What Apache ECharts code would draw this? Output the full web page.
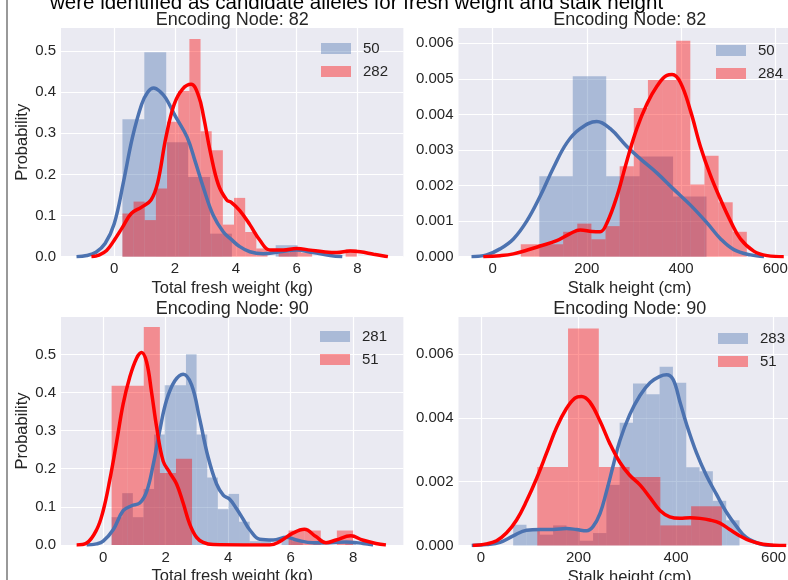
<!DOCTYPE html>
<html><head><meta charset="utf-8">
<script src="https://cdn.jsdelivr.net/npm/echarts@6/dist/echarts.min.js"></script>
<style>html,body{margin:0;padding:0;background:#fff;}#c{width:788px;height:580px;}</style>
</head><body><div id="c"></div>
<script>
const FONT = "'Liberation Sans', Arial, sans-serif";
const TXT = '#262626';
const BLUE = '#4C72B0', RED = '#FF0000';
const BLUE_FILL = 'rgba(76,114,176,0.4)', RED_FILL = 'rgba(255,0,0,0.4)';

const captionText = 'were identified as candidate alleles for fresh weight and stalk height';
const titles = ['Encoding Node: 82', 'Encoding Node: 82', 'Encoding Node: 90', 'Encoding Node: 90'];
const xNames = ['Total fresh weight (kg)', 'Stalk height (cm)', 'Total fresh weight (kg)', 'Stalk height (cm)'];
const yName = 'Probability';

const weightTicks = [0, 2, 4, 6, 8];
const heightTicks = [0, 200, 400, 600];
const probTicks = [0, 0.1, 0.2, 0.3, 0.4, 0.5];
const trYTicks = [0, 0.001, 0.002, 0.003, 0.004, 0.005, 0.006];
const brYTicks = [0, 0.002, 0.004, 0.006];

// ---- Top-left: fresh weight, node 82 ----
const tlBlueName = '50', tlRedName = '282';
const tlBlueEdges = [0.27, 0.99, 1.71, 2.43, 3.15, 3.87, 4.59, 5.31, 6.03];
const tlBlueHeights = [0.334, 0.497, 0.278, 0.194, 0.056, 0, 0, 0.028];
const tlRedEdges = [0.27, 0.637, 1.004, 1.371, 1.738, 2.105, 2.472, 2.839, 3.206, 3.573, 3.94, 4.307, 4.674, 5.041, 5.408, 5.775, 6.142, 6.509, 6.876, 7.243, 7.61, 7.977];
const tlRedHeights = [0.105, 0.134, 0.089, 0.166, 0.328, 0.403, 0.529, 0.305, 0.259, 0.078, 0.143, 0.06, 0.02, 0, 0.01, 0.02, 0.01, 0, 0, 0, 0.018];
const tlBlueKde = [[-1.24,0],[-0.9,0.003],[-0.6,0.011],[-0.3,0.032],[0,0.08],[0.3,0.18],[0.6,0.29],[0.9,0.37],[1.1,0.40],[1.3,0.41],[1.5,0.402],[1.7,0.385],[2.0,0.343],[2.4,0.29],[2.67,0.23],[2.94,0.166],[3.26,0.10],[3.59,0.06],[3.85,0.042],[4.1,0.026],[4.46,0.012],[4.9,0.007],[5.45,0.012],[6.0,0.016],[6.54,0.01],[7.1,0.003],[7.5,0]];
const tlRedKde = [[-0.75,0],[-0.5,0.004],[-0.25,0.015],[0,0.04],[0.26,0.07],[0.56,0.105],[0.89,0.12],[1.21,0.138],[1.43,0.18],[1.70,0.29],[1.97,0.37],[2.24,0.407],[2.53,0.419],[2.78,0.39],[2.94,0.34],[3.16,0.255],[3.43,0.174],[3.70,0.138],[3.85,0.132],[4.13,0.112],[4.46,0.078],[4.79,0.04],[5.12,0.016],[5.56,0.016],[6.0,0.02],[6.45,0.016],[6.88,0.012],[7.32,0.01],[7.76,0.014],[8.09,0.012],[8.53,0.006],[9.0,0]];

// ---- Top-right: stalk height, node 82 ----
const trBlueName = '50', trRedName = '284';
const trBlueEdges = [99, 170, 241, 312, 383, 454];
const trBlueHeights = [0.00226, 0.00507, 0.00226, 0.00282, 0.00169];
const trRedEdges = [59.6, 89.6, 119.6, 149.6, 179.6, 209.6, 239.6, 269.6, 299.6, 329.6, 359.6, 389.6, 419.6, 449.6, 479.6, 509.6, 539.6];
const trRedHeights = [0.00035, 0.00035, 0.00035, 0.0007, 0.00093, 0.00049, 0.00086, 0.00254, 0.00418, 0.00497, 0.00497, 0.00607, 0.00203, 0.00284, 0.00153, 0.0007];
const trBlueKde = [[-45,0],[-13,0.00005],[15.6,0.00022],[44,0.0005],[72.3,0.001],[100.7,0.0017],[129,0.0025],[157.4,0.0032],[185.8,0.0036],[221,0.0038],[249.6,0.0036],[285,0.0031],[313.5,0.00275],[349,0.00235],[384,0.0019],[420,0.00145],[455,0.00095],[484,0.0005],[512,0.0002],[547.5,0.00005],[576,0]];
const trRedKde = [[-20,0],[15.6,0.00003],[44,0.00008],[72,0.00018],[100.7,0.0003],[136,0.00045],[164.5,0.00065],[186,0.00075],[210.6,0.00071],[228,0.0007],[242.6,0.00095],[263.8,0.0017],[285,0.0027],[306,0.0036],[327.7,0.0043],[349,0.0048],[370,0.0051],[381,0.00512],[398.6,0.0049],[420,0.0041],[441,0.0031],[462,0.0023],[484,0.0016],[505,0.001],[526,0.0005],[555,0.00015],[583,0.00003],[618,0]];

// ---- Bottom-left: fresh weight, node 90 ----
const blBlueName = '281', blRedName = '51';
const blBlueEdges = [0.27, 0.61, 0.95, 1.29, 1.63, 1.97, 2.31, 2.65, 2.99, 3.33, 3.67, 4.01, 4.35, 4.69, 5.03, 5.37, 5.71, 6.05, 6.39, 6.73, 7.07, 7.41, 7.75, 8.09];
const blBlueHeights = [0.073, 0.136, 0.073, 0.147, 0.29, 0.419, 0.419, 0.50, 0.29, 0.177, 0.094, 0.134, 0.061, 0.01, 0.01, 0, 0.021, 0.01, 0, 0.01, 0, 0, 0.01];
const blRedEdges = [0.27, 0.785, 1.30, 1.815, 2.33, 2.845, 3.36, 3.875, 4.39, 4.905, 5.42, 5.935, 6.45, 6.965, 7.48, 8.0];
const blRedHeights = [0.418, 0.418, 0.572, 0.189, 0.226, 0, 0, 0, 0, 0, 0, 0.038, 0.038, 0, 0.038];
const blBlueKde = [[-0.53,0],[-0.21,0.003],[0,0.01],[0.32,0.04],[0.64,0.09],[0.91,0.103],[1.17,0.11],[1.39,0.14],[1.6,0.21],[1.81,0.3],[2.03,0.38],[2.29,0.43],[2.56,0.448],[2.83,0.42],[3.09,0.33],[3.36,0.23],[3.63,0.16],[3.85,0.13],[4.05,0.12],[4.27,0.095],[4.5,0.065],[4.69,0.04],[5.01,0.015],[5.44,0.013],[5.87,0.02],[6.19,0.013],[6.72,0.006],[7.25,0.006],[7.79,0.008],[8.32,0.004],[8.64,0]];
const blRedKde = [[-0.85,0],[-0.53,0.005],[-0.21,0.04],[0,0.09],[0.21,0.17],[0.43,0.27],[0.64,0.37],[0.85,0.44],[1.07,0.49],[1.23,0.505],[1.39,0.48],[1.55,0.4],[1.71,0.31],[1.92,0.22],[2.13,0.19],[2.35,0.16],[2.56,0.11],[2.77,0.055],[2.99,0.02],[3.2,0.007],[3.52,0.001],[4.5,0],[5.33,0],[5.65,0.009],[6.07,0.031],[6.44,0.041],[6.81,0.022],[7.13,0.006],[7.45,0.013],[7.93,0.024],[8.3,0.013],[8.73,0.004],[9.05,0]];

// ---- Bottom-right: stalk height, node 90 ----
const brBlueName = '283', brRedName = '51';
const brBlueEdges = [66, 93.3, 120.6, 147.9, 175.2, 202.5, 229.8, 257.1, 284.4, 311.7, 339, 366.3, 393.6, 420.9, 448.2, 475.5, 502.8, 530.1];
const brBlueHeights = [0.00065, 0.00052, 0.00034, 0.00063, 0.00052, 0.00015, 0.00039, 0.0019, 0.00385, 0.00508, 0.00474, 0.0056, 0.0051, 0.00245, 0.00233, 0.0014, 0.00079];
const brRedEdges = [115.4, 178.5, 241.6, 304.7, 367.8, 430.9, 494];
const brRedHeights = [0.00246, 0.0068, 0.00246, 0.00215, 0.00063, 0.00123];
const brBlueKde = [[-19,0],[11.6,0.00003],[39,0.0001],[66,0.0003],[93.6,0.00048],[121,0.0005],[148,0.0005],[175.5,0.00053],[196,0.0005],[216.5,0.00046],[230,0.0006],[244,0.001],[257.5,0.0017],[271,0.0025],[285,0.0033],[305,0.0041],[326,0.0047],[346.6,0.0051],[367,0.0053],[380.5,0.00535],[394,0.0052],[408,0.0045],[421.5,0.0038],[442,0.0029],[462,0.0022],[483,0.0016],[503,0.00105],[524,0.0006],[544,0.00025],[572,0.00005],[599,0]];
const brRedKde = [[-17,0],[11.6,0.00005],[32,0.00015],[52.6,0.0004],[73,0.0008],[93.6,0.0014],[114,0.0021],[134.6,0.0029],[155,0.0037],[175.5,0.0043],[192.6,0.00462],[206,0.00467],[223,0.0045],[244,0.0039],[264,0.0032],[285,0.0026],[305,0.0022],[326,0.0019],[346.6,0.0015],[367,0.0011],[387,0.0009],[408,0.00085],[428.6,0.00087],[449,0.00085],[469,0.0008],[490,0.0007],[510,0.0005],[531,0.0003],[551,0.00015],[578.5,0.00004],[626,0]];

function hist(edges, heights) {
  const out = [];
  for (let i = 0; i < heights.length; i++) if (heights[i] > 0) out.push([edges[i], edges[i + 1], heights[i]]);
  return out;
}
function renderHist(fill) {
  return function (params, api) {
    const a = api.coord([api.value(0), api.value(2)]);
    const b = api.coord([api.value(1), 0]);
    return { type: 'rect', shape: { x: a[0], y: a[1], width: b[0] - a[0], height: b[1] - a[1] }, style: { fill: fill } };
  };
}

const panels = [
  { grid: { left: 61, top: 28, width: 342.4, height: 228.7 }, x: [-1.75, 9.51], y: [0, 0.556], xt: weightTicks, yt: probTicks, yd: 1, yName: yName,
    bn: tlBlueName, rn: tlRedName, be: tlBlueEdges, bh: tlBlueHeights, re: tlRedEdges, rh: tlRedHeights, bk: tlBlueKde, rk: tlRedKde, leg: [321, 40] },
  { grid: { left: 458.5, top: 28, width: 342.4, height: 228.7 }, x: [-72.6, 654.4], y: [0, 0.00643], xt: heightTicks, yt: trYTicks, yd: 3, yName: '',
    bn: trBlueName, rn: trRedName, be: trBlueEdges, bh: trBlueHeights, re: trRedEdges, rh: trRedHeights, bk: trBlueKde, rk: trRedKde, leg: [716, 42] },
  { grid: { left: 61, top: 317, width: 342.4, height: 228 }, x: [-1.35, 9.61], y: [0, 0.598], xt: weightTicks, yt: probTicks, yd: 1, yName: yName,
    bn: blBlueName, rn: blRedName, be: blBlueEdges, bh: blBlueHeights, re: blRedEdges, rh: blRedHeights, bk: blBlueKde, rk: blRedKde, leg: [320, 328] },
  { grid: { left: 458.5, top: 317, width: 342.4, height: 228.5 }, x: [-46.1, 656], y: [0, 0.00716], xt: heightTicks, yt: brYTicks, yd: 3, yName: '',
    bn: brBlueName, rn: brRedName, be: brBlueEdges, bh: brBlueHeights, re: brRedEdges, rh: brRedHeights, bk: brBlueKde, rk: brRedKde, leg: [718, 330] }
];

const option = {
  animation: false,
  backgroundColor: '#fff',
  textStyle: { fontFamily: FONT },
  grid: [], xAxis: [], yAxis: [], series: [], legend: [], title: [],
  graphic: [
    { type: 'text', left: 50, top: -7, style: { text: captionText, font: '20.5px ' + FONT, fill: '#000' } },
    { type: 'line', shape: { x1: 7, y1: 0, x2: 7, y2: 580 }, style: { stroke: '#777', lineWidth: 1.5 } }
  ]
};

panels.forEach((p, i) => {
  option.grid.push(Object.assign({ show: true, backgroundColor: '#EAEAF2', borderWidth: 0, containLabel: false, outerBoundsMode: 'none' }, p.grid));
  option.xAxis.push({
    type: 'value', gridIndex: i, min: p.x[0], max: p.x[1],
    name: xNames[i], nameLocation: 'middle', nameGap: 23,
    nameTextStyle: { fontSize: 16.5, color: TXT, fontFamily: FONT },
    axisLine: { show: false }, axisTick: { show: false, customValues: p.xt },
    axisLabel: { customValues: p.xt, fontSize: 15, color: TXT, margin: 5, fontFamily: FONT, formatter: v => String(Math.round(v)) },
    splitLine: { show: true, customValues: p.xt, lineStyle: { color: '#fff', width: 1.2 } }
  });
  option.yAxis.push({
    type: 'value', gridIndex: i, min: p.y[0], max: p.y[1],
    name: p.yName, nameLocation: 'middle', nameGap: 28,
    nameTextStyle: { fontSize: 16.5, color: TXT, fontFamily: FONT },
    axisLine: { show: false }, axisTick: { show: false, customValues: p.yt },
    axisLabel: { customValues: p.yt, fontSize: 15, color: TXT, margin: 5, fontFamily: FONT, formatter: v => v.toFixed(p.yd) },
    splitLine: { show: true, customValues: p.yt, lineStyle: { color: '#fff', width: 1.2 } }
  });
  option.title.push({ text: titles[i], left: p.grid.left + p.grid.width / 2, top: p.grid.top - 17, textAlign: 'center',
    textStyle: { fontSize: 18, fontWeight: 'normal', color: TXT, fontFamily: FONT }, padding: 0 });
  option.series.push(
    { type: 'custom', name: p.bn, xAxisIndex: i, yAxisIndex: i, renderItem: renderHist(BLUE_FILL), encode: { x: [0, 1], y: 2 }, data: hist(p.be, p.bh) },
    { type: 'line', name: 'kde-b-' + i, xAxisIndex: i, yAxisIndex: i, data: p.bk, smooth: 0.4, showSymbol: false, lineStyle: { color: BLUE, width: 3.5 }, itemStyle: { color: BLUE } },
    { type: 'custom', name: p.rn, xAxisIndex: i, yAxisIndex: i, renderItem: renderHist(RED_FILL), encode: { x: [0, 1], y: 2 }, data: hist(p.re, p.rh) },
    { type: 'line', name: 'kde-r-' + i, xAxisIndex: i, yAxisIndex: i, data: p.rk, smooth: 0.4, showSymbol: false, lineStyle: { color: RED, width: 3.5 }, itemStyle: { color: RED } }
  );
  option.legend.push({
    left: p.leg[0], top: p.leg[1], orient: 'vertical', itemWidth: 30, itemHeight: 11, itemGap: 6, padding: 0,
    selectedMode: false, icon: 'rect',
    data: [ { name: p.bn, itemStyle: { color: BLUE_FILL } }, { name: p.rn, itemStyle: { color: RED_FILL } } ],
    textStyle: { fontSize: 15, color: TXT, fontFamily: FONT, lineHeight: 17, padding: [0, 0, 0, 7] }
  });
});

const chart = echarts.init(document.getElementById('c'), null, { renderer: 'canvas' });
chart.setOption(option);
</script></body></html>
